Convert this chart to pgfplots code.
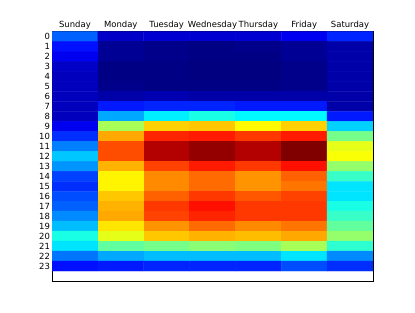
\documentclass[border=0pt]{standalone}
\usepackage{fontspec}
\setmainfont{DejaVu Sans}
\usepackage{pgfplots}
\pgfplotsset{compat=1.18}
\usepackage{pgfplotstable}
\pgfplotstableread{
x y c
0 0 0.22
1 0 0.07
2 0 0.08
3 0 0.08
4 0 0.08
5 0 0.11
6 0 0.16
0 1 0.14
1 1 0.02
2 1 0.01
3 1 0.005
4 1 0.01
5 1 0.02
6 1 0.04
0 2 0.11
1 2 0.02
2 2 0.01
3 2 0.005
4 2 0.005
5 2 0.02
6 2 0.04
0 3 0.07
1 3 0.005
2 3 0.005
3 3 0.0
4 3 0.0
5 3 0.01
6 3 0.04
0 4 0.06
1 4 0.005
2 4 0.005
3 4 0.0
4 4 0.0
5 4 0.01
6 4 0.04
0 5 0.06
1 5 0.01
2 5 0.005
3 5 0.005
4 5 0.005
5 5 0.01
6 5 0.04
0 6 0.06
1 6 0.04
2 6 0.05
3 6 0.04
4 6 0.04
5 6 0.04
6 6 0.04
0 7 0.06
1 7 0.15
2 7 0.16
3 7 0.16
4 7 0.15
5 7 0.15
6 7 0.04
0 8 0.06
1 8 0.29
2 8 0.36
3 8 0.40
4 8 0.37
5 8 0.37
6 8 0.15
0 9 0.11
1 9 0.54
2 9 0.67
3 9 0.68
4 9 0.63
5 9 0.67
6 9 0.33
0 10 0.17
1 10 0.71
2 10 0.84
3 10 0.85
4 10 0.82
5 10 0.85
6 10 0.49
0 11 0.25
1 11 0.80
2 11 0.95
3 11 0.98
4 11 0.95
5 11 1.0
6 11 0.60
0 12 0.32
1 12 0.80
2 12 0.95
3 12 0.98
4 12 0.95
5 12 1.0
6 12 0.62
0 13 0.27
1 13 0.70
2 13 0.81
3 13 0.85
4 13 0.82
5 13 0.86
6 13 0.52
0 14 0.19
1 14 0.635
2 14 0.74
3 14 0.77
4 14 0.73
5 14 0.78
6 14 0.43
0 15 0.17
1 15 0.635
2 15 0.74
3 15 0.77
4 15 0.73
5 15 0.76
6 15 0.35
0 16 0.20
1 16 0.68
2 16 0.78
3 16 0.82
4 16 0.79
5 16 0.81
6 16 0.35
0 17 0.22
1 17 0.70
2 17 0.82
3 17 0.86
4 17 0.82
5 17 0.82
6 17 0.40
0 18 0.26
1 18 0.71
2 18 0.81
3 18 0.84
4 18 0.82
5 18 0.82
6 18 0.43
0 19 0.31
1 19 0.65
2 19 0.73
3 19 0.77
4 19 0.74
5 19 0.76
6 19 0.47
0 20 0.40
1 20 0.60
2 20 0.68
3 20 0.70
4 20 0.69
5 20 0.71
6 20 0.52
0 21 0.35
1 21 0.47
2 21 0.49
3 21 0.51
4 21 0.50
5 21 0.54
6 21 0.42
0 22 0.24
1 22 0.29
2 22 0.31
3 22 0.31
4 22 0.31
5 22 0.35
6 22 0.26
0 23 0.14
1 23 0.15
2 23 0.16
3 23 0.16
4 23 0.16
5 23 0.20
6 23 0.17
}\heat
\begin{document}
\begin{tikzpicture}
\useasboundingbox[fill=white] (0,0) rectangle (415bp,313bp);
\begin{axis}[
  at={(52bp,32bp)}, anchor=south west,
  scale only axis, width=321bp, height=249.3bp,
  xmin=-0.5, xmax=6.5, ymin=-24.5, ymax=0.5,
  colormap={mpljet}{rgb255(0cm)=(0,0,128); rgb255(1cm)=(0,0,255); rgb255(3cm)=(0,255,255); rgb255(5cm)=(255,255,0); rgb255(7cm)=(255,0,0); rgb255(8cm)=(128,0,0)},
  point meta min=0, point meta max=1,
  xtick={0,...,6},
  xticklabels={Sunday,Monday,Tuesday,Wednesday,Thursday,Friday,Saturday},
  xticklabel pos=top,
  xtick pos=top,
  ytick={-23,...,0},
  yticklabels={23,22,21,20,19,18,17,16,15,14,13,12,11,10,9,8,7,6,5,4,3,2,1,0},
  ytick pos=both,
  tick align=inside,
  major tick length=3bp,
  tick style={black, line width=0.5pt},
  axis line style={black, line width=0.7pt},
  /pgf/number format/assume math mode=true,
  tick label style={font=\fontsize{8.5}{10}\selectfont, text=black},
  yticklabel style={xshift=1.5bp},
  xticklabel style={yshift=-1bp},
]
\addplot[matrix plot*, mesh/cols=7, point meta=explicit, shader=flat corner] table[x=x, y expr=-\thisrow{y}, meta=c] {\heat};
\end{axis}
\end{tikzpicture}
\end{document}
